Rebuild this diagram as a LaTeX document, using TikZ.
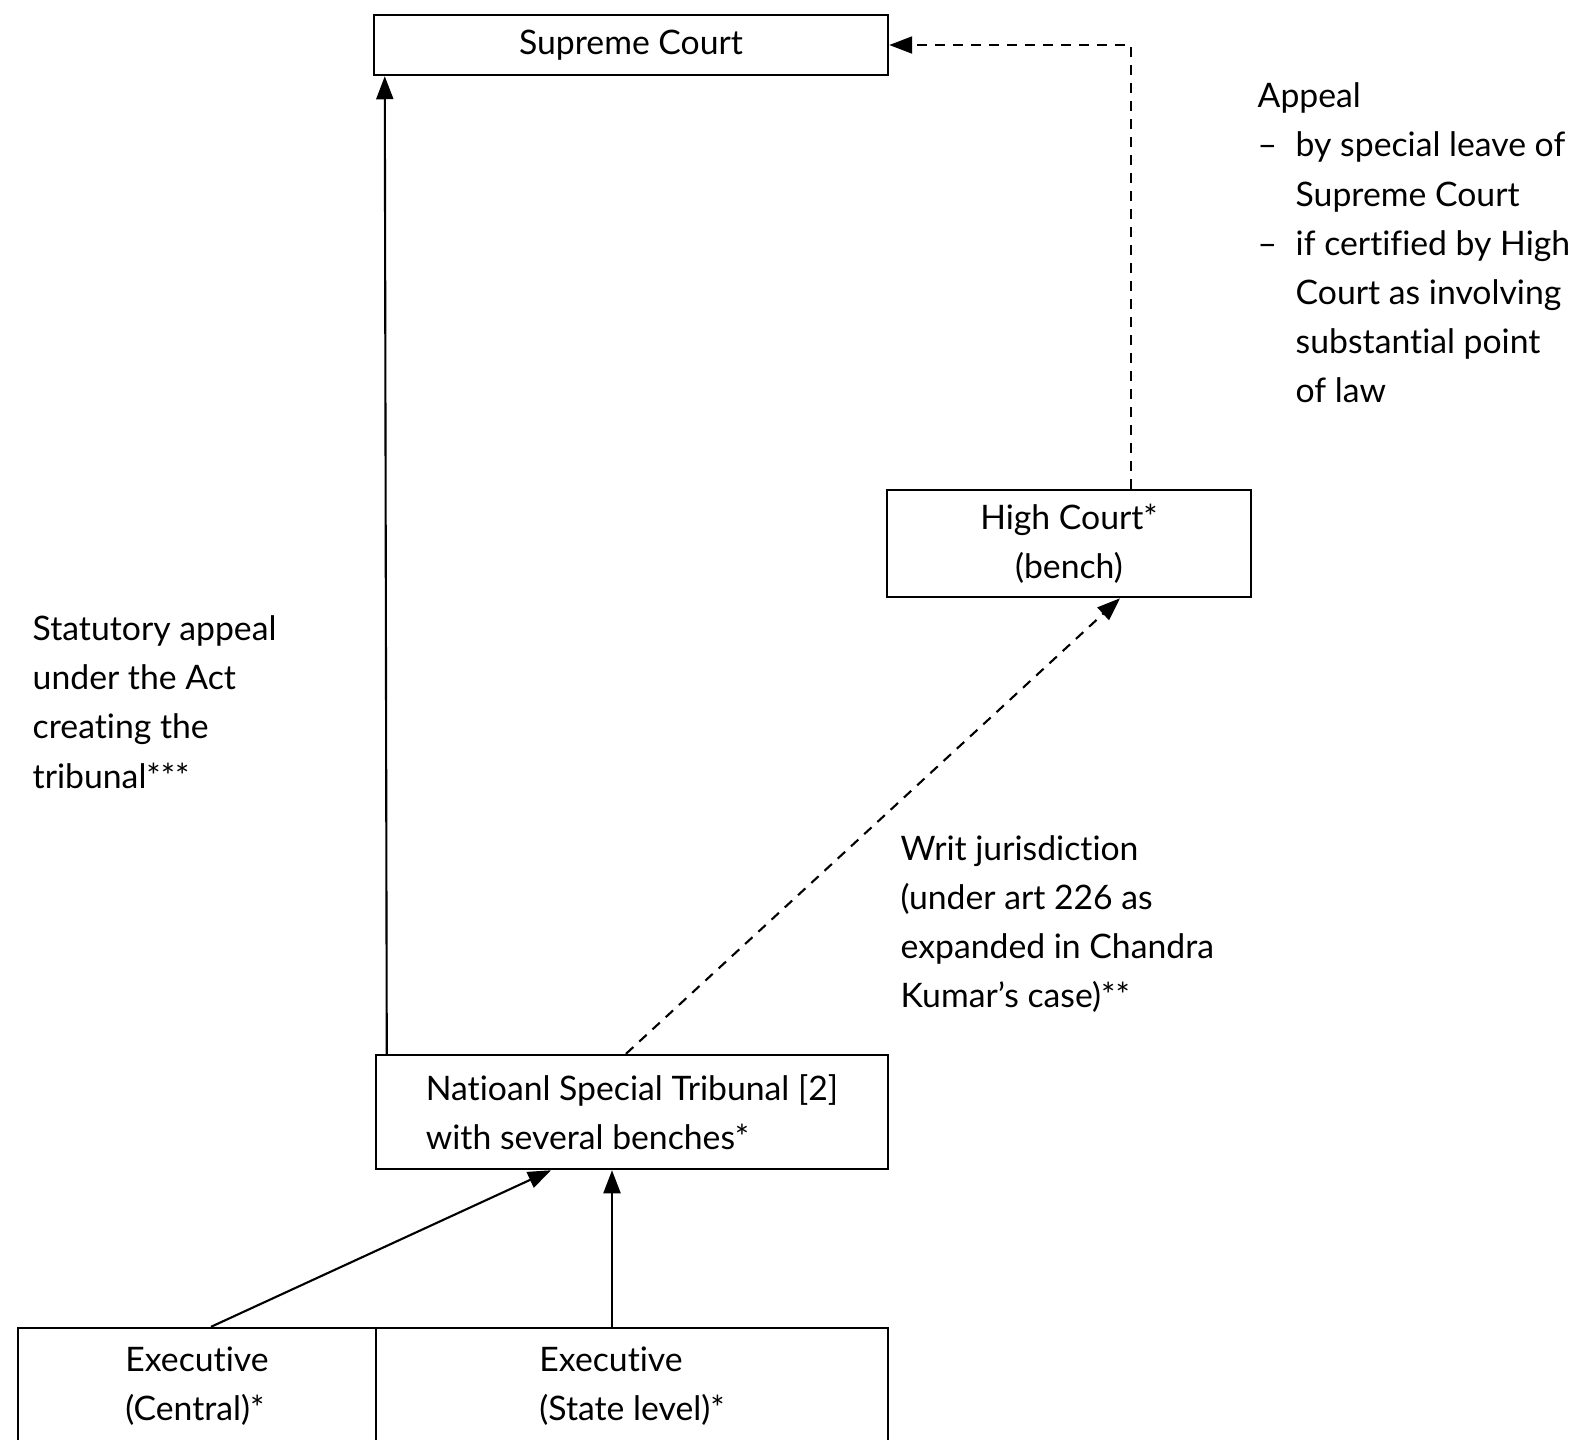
\documentclass[tikz,border=0pt]{standalone}
\usepackage{fontspec}
\setmainfont{Lato}[Ligatures={NoCommon}]
\usetikzlibrary{arrows.meta,positioning}

\begin{document}
\begin{tikzpicture}[
    font=\fontsize{9.6}{14}\selectfont,
    court/.style={draw,line width=0.7pt,inner sep=0pt,align=center},
    execbox/.style={court,minimum height=1.16cm},
    note/.style={inner sep=0pt,align=left,anchor=west},
    arr/.style={-{Triangle[length=2.3mm,width=1.7mm]},line width=0.6pt},
    dasharr/.style={arr,dash pattern=on 1mm off 0.8mm}]
  \clip (0,0) rectangle (15.77,-14.39);
  \node[court,minimum width=5.14cm,minimum height=0.60cm] (supreme) at (6.31,-0.45) {Supreme Court};
  \node[court,minimum width=3.64cm,minimum height=1.07cm] (high) at (10.69,-5.435) {High Court*\\(bench)};
  \node[court,align=left,minimum width=5.12cm,minimum height=1.14cm] (tribunal) at (6.32,-11.12) {Natioanl Special Tribunal [2]\\with several benches*};
  \node[execbox,align=left,minimum width=3.58cm] (central) at (1.97,-13.86) {Executive\\(Central)*};
  \node[execbox,align=left,minimum width=5.12cm] (state) at (6.32,-13.86) {Executive\\(State level)*};
  % appeal routes
  \draw[arr] ([xshift=1.2mm]tribunal.north west) -- ([xshift=1.2mm]supreme.south west);
  \draw[dasharr] ([xshift=-0.6mm]tribunal.north) -- ([xshift=5.1mm]high.south);
  \draw[dasharr] ([xshift=6.2mm]high.north) |- (supreme.east);
  \draw[arr] ([xshift=1.4mm]central.north) -- ([xshift=-8.1mm]tribunal.south);
  \draw[arr] ([xshift=-2mm]state.north) -- ([xshift=-2mm]tribunal.south);
  % labels
  \node[note] (statutory) at (0.32,-7.02) {Statutory appeal\\under the Act\\creating the\\tribunal***};
  \node[note] (writ) at (9.00,-9.24) {Writ jurisdiction\\(under art 226 as\\expanded in Chandra\\Kumar's case)**};
  \node[note] (appeal) at (12.57,-2.43) {Appeal\\\makebox[3.8mm][l]{--}by special leave of\\\hspace*{3.8mm}Supreme Court\\\makebox[3.8mm][l]{--}if certified by High\\\hspace*{3.8mm}Court as involving\\\hspace*{3.8mm}substantial point\\\hspace*{3.8mm}of law};
\end{tikzpicture}
\end{document}
